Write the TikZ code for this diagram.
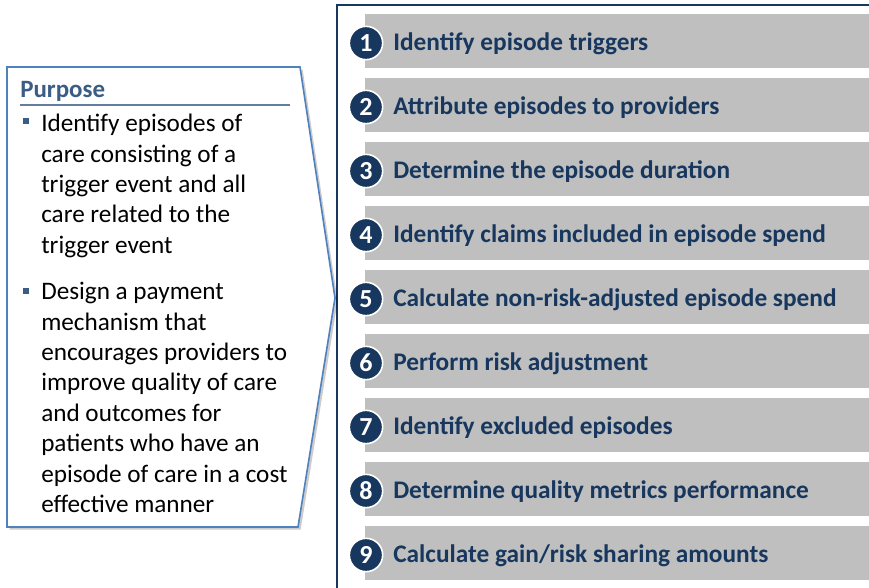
\documentclass[tikz,border=0pt]{standalone}
\usepackage{fontspec}
\setmainfont{Carlito}
\usepackage{tikz}
\usetikzlibrary{positioning,shadows}
\definecolor{navy}{HTML}{17375E}
\definecolor{steel}{HTML}{4F81BD}
\definecolor{slate}{HTML}{3B5C84}
\definecolor{bargray}{HTML}{BFBFBF}

\begin{document}
\begin{tikzpicture}[x=0.75pt, y=-0.75pt,
  stepbar/.style={fill=bargray, minimum width=378pt, minimum height=40.5pt,
                  inner sep=0pt, anchor=north west},
  stepnum/.style={circle, fill=navy, draw=white, line width=1.2pt, minimum size=25pt,
                  inner sep=0pt, text=white, font=\bfseries\fontsize{19.5}{19.5}\selectfont},
  steptxt/.style={anchor=base west, inner sep=0pt, text=navy,
                  font=\bfseries\fontsize{19}{22}\selectfont},
  bultxt/.style={anchor=north west, inner sep=0pt, align=left,
                 font=\fontsize{18.9}{22.8}\selectfont},
  bulmark/.style={fill=slate, minimum size=4.5pt, inner sep=0pt}]
\useasboundingbox (0,0) rectangle (869,587);
% frame of the steps
\draw[navy, line width=1.5pt] (337,600) -- (337,5) -- (880,5);
\foreach \n/\txt in {1/Identify episode triggers,
                     2/Attribute episodes to providers,
                     3/Determine the episode duration,
                     4/Identify claims included in episode spend,
                     5/Calculate non-risk-adjusted episode spend,
                     6/Perform risk adjustment,
                     7/Identify excluded episodes,
                     8/Determine quality metrics performance,
                     9/{Calculate gain/risk sharing amounts}}{
  \node[stepbar] (bar\n) at (365,{14+64*(\n-1)}) {};
  \node[stepnum] (num\n) at (366,{43+64*(\n-1)}) {\n};
  \node[steptxt] (txt\n) at (393,{50+64*(\n-1)}) {\txt};
}
% purpose arrow box
\draw[steel, line width=1.2pt, fill=white,
      drop shadow={shadow xshift=2pt, shadow yshift=-2pt, opacity=0.2, fill=black}]
  (7,67) -- (300,67) -- (335,298) -- (298,527) -- (7,527) -- cycle;
\node[anchor=base west, inner sep=0pt, text=slate,
      font=\bfseries\fontsize{18.7}{22}\selectfont] (ptitle) at (20,97) {Purpose};
\draw[slate!80, line width=0.8pt] (20,105) -- (290,105);
\node[bulmark] (mark1) at (26,121) {};
\node[bultxt] (bul1) at (41,114) {Identify episodes of\\ care consisting of a\\
  trigger event and all\\ care related to the\\ trigger event};
\node[bulmark] (mark2) at (26,291) {};
\node[bultxt] (bul2) at (41,282) {Design a payment\\ mechanism that\\
  encourages providers to\\ improve quality of care\\ and outcomes for\\
  patients who have an\\ episode of care in a cost\\ effective manner};
\end{tikzpicture}
\end{document}
